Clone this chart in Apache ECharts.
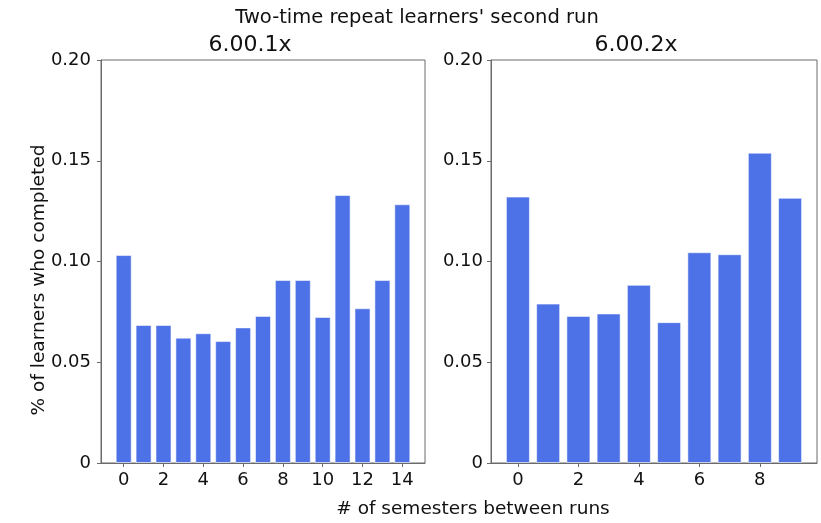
<!DOCTYPE html>
<html>
<head>
<meta charset="utf-8">
<script src="https://cdn.jsdelivr.net/npm/echarts@6/dist/echarts.min.js"></script>
<style>
html,body{margin:0;padding:0;background:#fff;}
#chart{width:821px;height:523px;}
</style>
</head>
<body>
<div id="chart"></div>
<script>
// ---- data ----
const mainTitle = "Two-time repeat learners' second run";
const leftTitle = "6.00.1x";
const rightTitle = "6.00.2x";
const yAxisTitle = "% of learners who completed";
const xAxisTitle = "# of semesters between runs";

const leftSemesters = [0,1,2,3,4,5,6,7,8,9,10,11,12,13,14];
const leftValues = [0.1032,0.0685,0.0685,0.0622,0.0644,0.0605,0.0673,0.0730,0.0908,0.0908,0.0725,0.1330,0.0768,0.0908,0.1284];

const rightSemesters = [0,1,2,3,4,5,6,7,8,9];
const rightValues = [0.1322,0.0791,0.0730,0.0742,0.0884,0.0699,0.1046,0.1036,0.1540,0.1316];

const leftXTicks = [0,2,4,6,8,10,12,14];
const rightXTicks = [0,2,4,6,8];
const yTicks = [0,0.05,0.10,0.15,0.20];

// ---- style ----
const FONT = 'DejaVu Sans';
const TXT = '#111';
const SPINE = '#6b6b6b';
const BAR = '#4d71e6';

const chart = echarts.init(document.getElementById('chart'), null, {renderer:'canvas'});

function yAxisCfg(gridIndex, margin){
  return {
    type:'value', gridIndex, min:0, max:0.2, interval:0.05,
    axisLine:{show:true, onZero:false, lineStyle:{color:SPINE, width:1}},
    axisTick:{show:true, length:4, customValues:yTicks, lineStyle:{color:SPINE}},
    splitLine:{show:false},
    axisLabel:{
      fontFamily:FONT, fontSize:18, color:TXT, margin, customValues:yTicks,
      formatter:v => (Math.abs(v) < 1e-9 ? '0' : v.toFixed(2))
    }
  };
}
function xAxisCfg(gridIndex, min, max, ticks){
  return {
    type:'value', gridIndex, min, max,
    axisLine:{show:true, onZero:false, lineStyle:{color:SPINE, width:1}},
    axisTick:{show:true, length:4, customValues:ticks, lineStyle:{color:SPINE}},
    splitLine:{show:false},
    axisLabel:{fontFamily:FONT, fontSize:18, color:TXT, margin:8, customValues:ticks,
      formatter:v => String(Math.round(v))}
  };
}

const option = {
  backgroundColor:'#fff',
  animation:false,
  grid:[
    {left:101, top:60, width:324, height:403, show:true, borderColor:SPINE, borderWidth:1, backgroundColor:'transparent'},
    {left:491, top:60, width:326, height:403, show:true, borderColor:SPINE, borderWidth:1, backgroundColor:'transparent'}
  ],
  xAxis:[
    xAxisCfg(0, -1.14, 15.14, leftXTicks),
    xAxisCfg(1, -0.89, 9.89, rightXTicks)
  ],
  yAxis:[yAxisCfg(0, 10), yAxisCfg(1, 8)],
  series:[
    {type:'bar', xAxisIndex:0, yAxisIndex:0, barWidth:16,
      data:leftSemesters.map((s,i)=>[s,leftValues[i]]),
      itemStyle:{color:BAR, borderColor:'rgba(255,255,255,0.55)', borderWidth:1}},
    {type:'bar', xAxisIndex:1, yAxisIndex:1, barWidth:24,
      data:rightSemesters.map((s,i)=>[s,rightValues[i]]),
      itemStyle:{color:BAR, borderColor:'rgba(255,255,255,0.55)', borderWidth:1}}
  ],
  graphic:[
    {type:'text', x:417, y:17.5, style:{text:mainTitle, fontFamily:FONT, fontSize:19.5, fill:TXT, align:'center', verticalAlign:'middle'}},
    {type:'text', x:250, y:45, style:{text:leftTitle, fontFamily:FONT, fontSize:22, fill:TXT, align:'center', verticalAlign:'middle'}},
    {type:'text', x:636, y:45, style:{text:rightTitle, fontFamily:FONT, fontSize:22, fill:TXT, align:'center', verticalAlign:'middle'}},
    {type:'text', x:473, y:509, style:{text:xAxisTitle, fontFamily:FONT, fontSize:18.5, fill:TXT, align:'center', verticalAlign:'middle'}},
    {type:'text', x:39, y:280, rotation:Math.PI/2, style:{text:yAxisTitle, fontFamily:FONT, fontSize:18.5, fill:TXT, align:'center', verticalAlign:'middle'}}
  ]
};
chart.setOption(option);
</script>
</body>
</html>
